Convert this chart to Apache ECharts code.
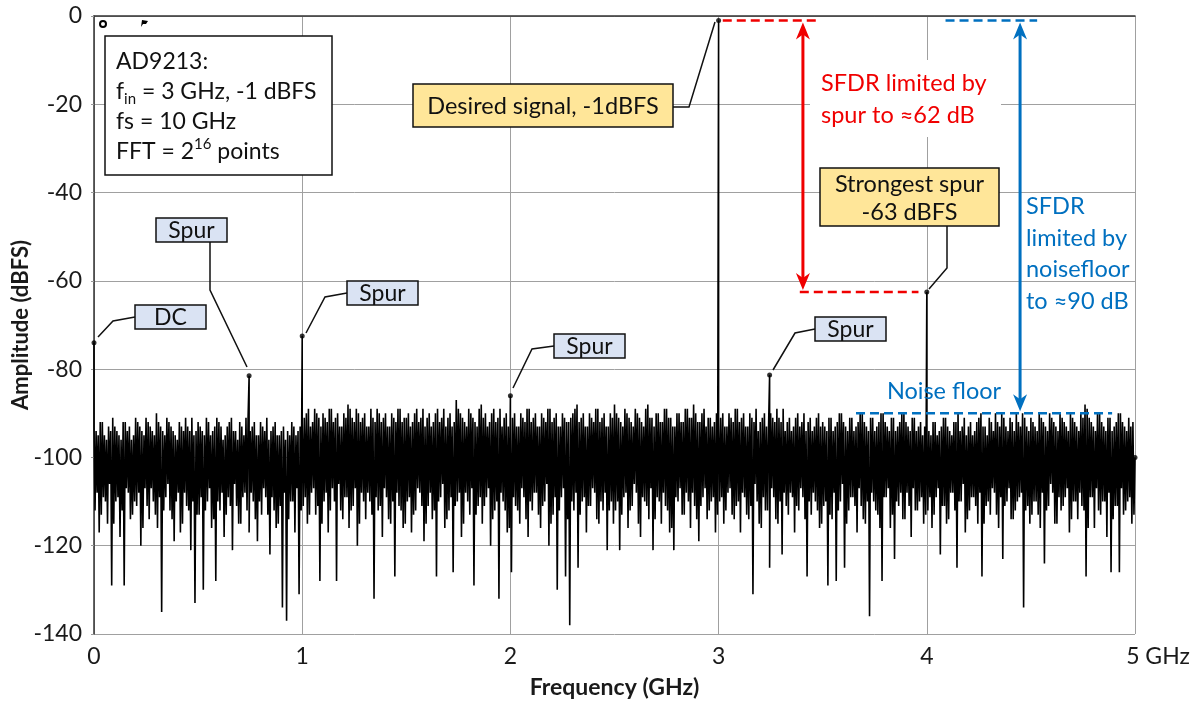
<!DOCTYPE html>
<html>
<head>
<meta charset="utf-8">
<script src="https://cdn.jsdelivr.net/npm/echarts/dist/echarts.min.js"></script>
<style>
html, body { margin: 0; padding: 0; background: #fff; }
#chart { width: 1195px; height: 703px; }
</style>
</head>
<body>
<div id="chart"></div>
<script>
var FONT = 'Lato, "Noto Sans", sans-serif';

// noise floor, one value every 5 MHz from 0 to 4.995 GHz
var noiseStep = 0.005;
var noiseDb = [
  -93,-112,-94,-108,-95,-117,-92,-113,-92,-109,-95,-110,-96,-115,-93,-106,-94,-129,-91,-115,-93,-110,-94,-109,-95,-118,-96,-112,-92,-129,-92,-107,-94,-108,-93,-114,-96,-113,-95,-110,-91,-111,-92,-108,-93,-120,-94,-116,-95,-107,-91,-111,-92,-114,-93,-107,-94,-110,-95,-113,-90,-116,-92,-109,-93,-135,-94,-112,-95,-109,-91,-106,-92,-112,-93,-114,-94,-119,-95,-110,-96,-108,-92,-117,-93,-115,-94,-108,-91,-111,-93,-112,-94,-121,-91,-110,-95,-133,-94,-113,
  -92,-113,-93,-109,-94,-130,-95,-112,-91,-110,-92,-107,-95,-116,-94,-114,-93,-128,-91,-110,-92,-112,-93,-108,-96,-118,-95,-113,-93,-109,-92,-111,-91,-121,-94,-106,-94,-111,-96,-115,-92,-115,-93,-109,-95,-108,-91,-112,-91,-117,-94,-108,-93,-110,-92,-114,-95,-119,-95,-110,-92,-113,-93,-107,-94,-109,-91,-113,-96,-122,-94,-109,-93,-112,-92,-116,-95,-115,-95,-111,-94,-134,-93,-108,-96,-137,-94,-114,-95,-110,-92,-110,-93,-117,-95,-107,-94,-131,-93,-112,
  -92,-111,-91,-109,-90,-115,-89,-113,-93,-108,-92,-107,-89,-113,-90,-111,-91,-128,-93,-115,-90,-110,-91,-108,-92,-117,-89,-112,-89,-107,-92,-110,-91,-128,-90,-106,-93,-112,-93,-114,-90,-109,-91,-109,-88,-116,-89,-112,-91,-111,-92,-107,-89,-120,-90,-115,-92,-108,-91,-110,-90,-114,-93,-108,-93,-110,-89,-113,-91,-132,-92,-109,-89,-112,-90,-111,-92,-118,-91,-107,-90,-109,-93,-114,-93,-115,-90,-110,-91,-127,-92,-108,-89,-111,-89,-112,-92,-116,-91,-115,
  -91,-110,-90,-109,-93,-117,-92,-113,-90,-112,-89,-107,-92,-108,-91,-111,-89,-119,-93,-115,-91,-111,-90,-108,-93,-114,-92,-112,-90,-127,-89,-110,-92,-109,-91,-106,-89,-116,-93,-114,-91,-112,-90,-109,-93,-126,-92,-111,-87,-110,-89,-108,-90,-118,-91,-115,-92,-108,-93,-110,-89,-113,-90,-107,-91,-129,-92,-113,-93,-111,-89,-109,-88,-115,-91,-111,-90,-109,-93,-107,-92,-120,-90,-114,-89,-112,-92,-110,-91,-132,-89,-108,-93,-110,-91,-112,-90,-117,-93,-116,
  -92,-126,-91,-109,-90,-111,-93,-112,-93,-115,-90,-107,-91,-109,-92,-114,-89,-118,-89,-110,-92,-112,-91,-108,-90,-108,-93,-113,-93,-116,-90,-111,-91,-110,-92,-106,-89,-120,-89,-115,-92,-113,-91,-109,-90,-130,-93,-112,-93,-109,-90,-107,-91,-127,-92,-114,-92,-138,-91,-110,-90,-112,-89,-108,-88,-125,-92,-113,-91,-110,-90,-109,-93,-117,-93,-111,-90,-111,-91,-107,-92,-108,-89,-114,-89,-115,-92,-110,-91,-112,-90,-108,-93,-121,-93,-112,-90,-110,-91,-115,
  -88,-112,-90,-110,-91,-121,-92,-113,-93,-109,-89,-108,-90,-116,-91,-112,-92,-111,-93,-106,-89,-108,-90,-115,-91,-118,-92,-109,-93,-110,-89,-111,-88,-114,-91,-107,-91,-121,-93,-114,-90,-109,-90,-110,-92,-115,-92,-108,-89,-111,-89,-112,-91,-117,-91,-116,-93,-121,-93,-109,-90,-110,-90,-107,-92,-113,-92,-113,-89,-108,-89,-110,-91,-116,-91,-108,-88,-111,-90,-114,-92,-119,-92,-111,-90,-109,-89,-107,-93,-114,-91,-112,-91,-110,-93,-109,-92,-117,-90,-113,
  -92,-110,-91,-109,-90,-115,-93,-112,-93,-108,-90,-107,-91,-113,-92,-114,-89,-111,-89,-110,-92,-117,-91,-108,-90,-109,-93,-113,-93,-114,-90,-111,-91,-131,-92,-106,-89,-110,-94,-115,-92,-116,-91,-109,-90,-112,-93,-112,-93,-125,-90,-107,-91,-109,-92,-114,-89,-115,-91,-110,-92,-122,-89,-108,-94,-111,-92,-113,-91,-108,-94,-109,-93,-117,-91,-111,-90,-112,-93,-107,-92,-109,-90,-114,-94,-127,-92,-110,-91,-113,-94,-108,-93,-110,-91,-112,-90,-116,-93,-115,
  -92,-111,-93,-110,-94,-129,-91,-113,-91,-114,-94,-108,-93,-128,-92,-112,-90,-110,-90,-106,-92,-125,-93,-115,-94,-112,-91,-109,-91,-109,-94,-111,-93,-117,-92,-107,-90,-111,-90,-114,-92,-115,-93,-110,-94,-136,-91,-108,-91,-110,-94,-112,-93,-113,-92,-116,-90,-128,-90,-109,-92,-109,-93,-107,-94,-116,-91,-113,-91,-123,-94,-110,-93,-111,-92,-108,-90,-114,-90,-114,-92,-108,-93,-111,-94,-118,-91,-107,-91,-112,-94,-112,-93,-110,-92,-109,-95,-115,-93,-113,
  -93,-112,-94,-109,-95,-116,-92,-113,-92,-109,-95,-107,-94,-122,-93,-111,-91,-111,-91,-115,-93,-114,-94,-108,-95,-108,-92,-112,-92,-125,-90,-110,-94,-110,-93,-106,-91,-117,-95,-114,-93,-112,-92,-109,-95,-109,-94,-111,-92,-115,-91,-108,-90,-127,-93,-115,-93,-111,-95,-110,-91,-113,-92,-107,-94,-108,-90,-113,-92,-116,-93,-109,-90,-123,-91,-111,-93,-110,-94,-107,-91,-114,-92,-114,-94,-112,-90,-110,-92,-109,-93,-108,-90,-134,-91,-112,-93,-111,-94,-115,
  -91,-113,-92,-110,-93,-110,-94,-113,-90,-116,-91,-108,-92,-124,-93,-112,-94,-111,-90,-106,-91,-108,-92,-115,-93,-115,-94,-109,-90,-112,-91,-111,-92,-109,-93,-107,-94,-117,-90,-114,-91,-110,-92,-110,-93,-114,-94,-108,-90,-111,-91,-112,-88,-127,-89,-116,-91,-109,-92,-109,-93,-116,-94,-107,-90,-112,-90,-113,-92,-110,-93,-110,-94,-118,-91,-108,-91,-126,-94,-114,-93,-111,-92,-111,-90,-126,-90,-107,-92,-113,-93,-112,-94,-110,-91,-109,-93,-115,-92,-113
];

// DC, spurs, desired signal and last bin
var peakFreq = [0, 0.745, 1.0, 2.0, 3.0, 3.245, 4.0, 5.0];
var peakDb   = [-74, -81.5, -72.5, -86, -1, -81.3, -62.5, -100];

var xTicks = [0, 1, 2, 3, 4, 5];
var yTicks = [-140, -120, -100, -80, -60, -40, -20, 0];

// merge peaks into the noise trace, sorted by frequency
var spectrum = [];
var pk = 0;
for (var i = 0; i < noiseDb.length; i++) {
  var f = +(i * noiseStep).toFixed(4);
  while (pk < peakFreq.length && peakFreq[pk] <= f) {
    spectrum.push([peakFreq[pk], peakDb[pk]]);
    pk++;
  }
  spectrum.push([f, noiseDb[i]]);
}
while (pk < peakFreq.length) {
  spectrum.push([peakFreq[pk], peakDb[pk]]);
  pk++;
}
var peaks = peakFreq.map(function (f, k) { return [f, peakDb[k]]; });

var dom = document.getElementById('chart');
var chart = echarts.init(dom);

chart.setOption({
  animation: false,
  backgroundColor: '#fff',
  grid: { left: 94, right: 60, top: 16, bottom: 69, containLabel: false, outerBoundsMode: 'none' },
  xAxis: {
    type: 'value',
    min: xTicks[0],
    max: xTicks[xTicks.length - 1],
    interval: 1,
    name: 'Frequency (GHz)',
    nameLocation: 'middle',
    nameGap: 42,
    nameTextStyle: { fontFamily: FONT, fontSize: 23, fontWeight: 'bold', color: '#1a1a1a' },
    axisLine: { show: true, lineStyle: { color: '#333', width: 1.5 } },
    axisTick: { show: false },
    splitLine: { show: true, lineStyle: { color: '#a0a0a0', width: 1 } },
    axisLabel: {
      fontFamily: FONT, fontSize: 23, color: '#1a1a1a', margin: 11,
      formatter: function (v) { return v === 5 ? '{g|5 GHz}' : String(v); },
      rich: { g: { fontFamily: FONT, fontSize: 23, color: '#1a1a1a', padding: [0, 0, 0, 46] } }
    }
  },
  yAxis: {
    type: 'value',
    min: yTicks[0],
    max: yTicks[yTicks.length - 1],
    interval: 20,
    name: 'Amplitude (dBFS)',
    nameLocation: 'middle',
    nameGap: 62,
    nameMoveOverlap: false,
    nameTextStyle: { fontFamily: FONT, fontSize: 22, fontWeight: 'bold', color: '#1a1a1a' },
    axisLine: { show: true, lineStyle: { color: '#333', width: 1.5 } },
    axisTick: { show: true, length: 3, lineStyle: { color: '#999' } },
    splitLine: { show: true, lineStyle: { color: '#a0a0a0', width: 1 } },
    axisLabel: { fontFamily: FONT, fontSize: 23, color: '#1a1a1a', margin: 12 }
  },
  series: [
    {
      name: 'FFT',
      type: 'line',
      data: spectrum,
      showSymbol: false,
      symbol: 'none',
      sampling: null,
      lineStyle: { color: '#000', width: 1.6 },
      z: 2,
      silent: true
    },
    {
      name: 'peaks',
      type: 'scatter',
      data: peaks,
      symbolSize: 5,
      itemStyle: { color: '#000' },
      z: 3,
      silent: true
    }
  ]
});

function px(f, db) { return chart.convertToPixel({ gridIndex: 0 }, [f, db]); }

var RED = '#f00000';
var BLUE = '#0070c0';
var g = [];

function poly(points, color, width, dash) {
  g.push({ type: 'polyline', z: 20, silent: true, shape: { points: points },
    style: { stroke: color, lineWidth: width, lineDash: dash || null, fill: null } });
}
function box(x, y, w, h, fill, text, size, lh) {
  g.push({ type: 'rect', z: 20, silent: true, shape: { x: x, y: y, width: w, height: h },
    style: { fill: fill, stroke: '#111', lineWidth: 1.5 } });
  g.push({ type: 'text', z: 21, silent: true,
    style: { x: x + w / 2, y: y + h / 2 + 1, text: text, align: 'center', verticalAlign: 'middle',
      fill: '#111', fontSize: size, fontFamily: FONT, lineHeight: lh || size + 4 } });
}
function label(x, y, text, color, align, lh) {
  g.push({ type: 'text', z: 21, silent: true,
    style: { x: x, y: y, text: text, align: align, verticalAlign: 'top',
      fill: color, fontSize: 23.5, fontFamily: FONT, lineHeight: lh } });
}
function head(x, y, dir, color) {
  // dir -1 points up, +1 points down
  g.push({ type: 'polygon', z: 20, silent: true,
    shape: { points: [[x, y], [x - 7, y - dir * 17], [x, y - dir * 12], [x + 7, y - dir * 17]] },
    style: { fill: color } });
}
function arrow(f, dbTop, dbBot, color) {
  var a = px(f, dbTop), b = px(f, dbBot);
  a[1] += 2; b[1] -= 2;
  poly([[a[0], a[1] + 10], [b[0], b[1] - 10]], color, 3);
  head(a[0], a[1], -1, color);
  head(b[0], b[1], 1, color);
}
function dashed(f0, f1, db, color) {
  poly([px(f0, db), px(f1, db)], color, 2.5, [9, 5]);
}

// SFDR level lines and arrows
dashed(3.02, 3.47, -1, RED);
dashed(3.39, 3.96, -62.5, RED);
arrow(3.405, -1, -62.5, RED);
dashed(4.09, 4.53, -1, BLUE);
dashed(3.66, 4.89, -90, BLUE);
arrow(4.448, -1, -90, BLUE);

// leader lines
poly([[135, 317], [113, 321], [98, 337]], '#111', 1.5);
poly([[210, 241], [210, 290], [247, 367]], '#111', 1.5);
poly([[347, 293], [325, 297], [306, 333]], '#111', 1.5);
poly([[554, 346], [532, 349], [513, 388]], '#111', 1.5);
poly([[815, 329], [795, 333], [773, 370]], '#111', 1.5);
poly([[673, 107], [689, 107], [715, 22]], '#111', 1.5);
poly([[947, 226], [947, 268], [929, 289]], '#111', 1.5);

// annotation boxes
box(135, 305, 71, 24, '#dae3f3', 'DC', 23);
box(156, 218, 71, 24, '#dae3f3', 'Spur', 23);
box(347, 281, 71, 24, '#dae3f3', 'Spur', 23);
box(554, 334, 71, 24, '#dae3f3', 'Spur', 23);
box(815, 317, 71, 24, '#dae3f3', 'Spur', 23);
box(413, 84, 260, 43, '#ffe699', 'Desired signal, -1dBFS', 23.5);
box(820, 168, 179, 58, '#ffe699', 'Strongest spur\n-63 dBFS', 23.5, 28);

// red text on white
g.push({ type: 'rect', z: 19, silent: true, shape: { x: 810, y: 60, width: 191, height: 77 }, style: { fill: '#fff' } });
label(821, 67, 'SFDR limited by\nspur to \u224862 dB', RED, 'left', 32);
label(1026, 191, 'SFDR\nlimited by\nnoisefloor\nto \u224890 dB', BLUE, 'left', 31.5);
label(944, 376, 'Noise floor', BLUE, 'center', 30);

// info box
g.push({ type: 'rect', z: 20, silent: true, shape: { x: 105, y: 36, width: 227, height: 139 },
  style: { fill: '#fff', stroke: '#111', lineWidth: 1.5 } });
var n = { fontSize: 23, fontFamily: FONT, fill: '#111', lineHeight: 30 };
g.push({ type: 'text', z: 21, silent: true,
  style: {
    x: 116, y: 47,
    text: '{n|AD9213:}\n{n|f}{s|in}{n| = 3 GHz, -1 dBFS}\n{n|fs = 10 GHz}\n{n|FFT = 2}{p|16}{n| points}',
    fill: '#111', fontSize: 23, fontFamily: FONT, lineHeight: 30,
    rich: {
      n: n,
      s: { fontSize: 15, fontFamily: FONT, fill: '#111', lineHeight: 14, verticalAlign: 'bottom' },
      p: { fontSize: 15, fontFamily: FONT, fill: '#111', lineHeight: 14, verticalAlign: 'top' }
    }
  } });

// small marks at the top-left corner of the plot
g.push({ type: 'circle', z: 20, silent: true, shape: { cx: 103, cy: 24, r: 3 }, style: { fill: '#fff', stroke: '#000', lineWidth: 2 } });
g.push({ type: 'polygon', z: 20, silent: true, shape: { points: [[141, 27], [142, 20], [148, 21], [146, 24], [143, 24]] }, style: { fill: '#000' } });

chart.setOption({ graphic: g });
</script>
</body>
</html>
